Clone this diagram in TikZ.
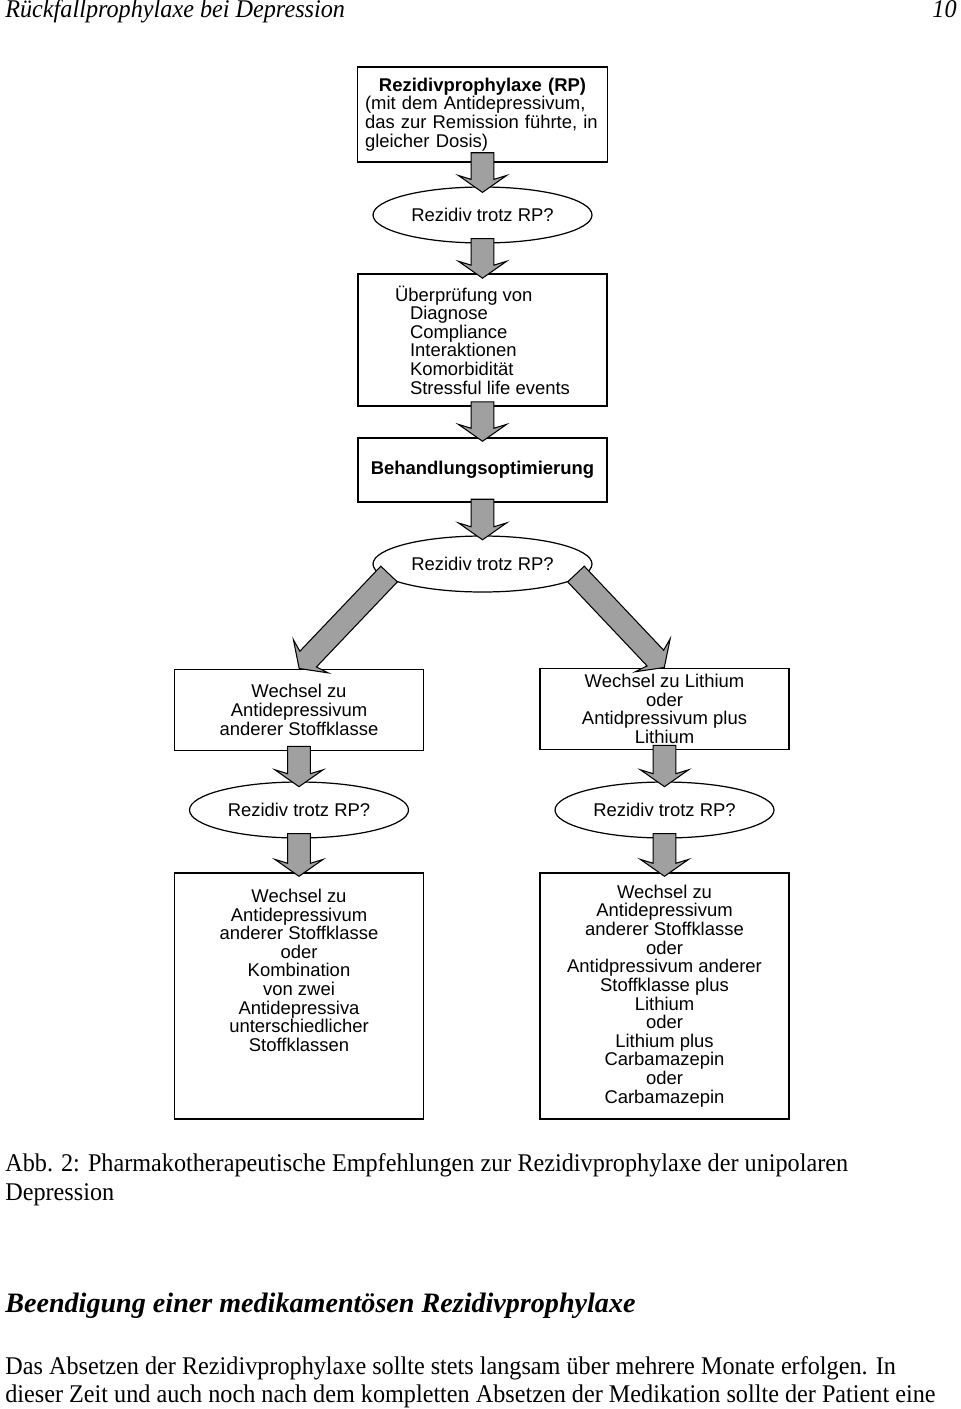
\documentclass[tikz,border=0pt]{standalone}
\usepackage{fontspec}
\setmainfont{Liberation Serif}
\setsansfont{Liberation Sans}
\newfontfamily\pagefont[FakeStretch=0.95]{Liberation Serif}
\usetikzlibrary{calc,positioning,shapes.geometric}
\definecolor{arrowgray}{RGB}{160,160,160}

% fat grey arrow: start, end, overlap into start, overlap past end
\newcommand{\fatarrow}[4]{%
  \filldraw[fatarrow] let \p1=($(#2)-(#1)$), \n1={atan2(\y1,\x1)},
      \n2={veclen(\x1,\y1)+#3+#4}, \p2=($(#1)+(\n1+180:#3)$) in
    ($(\p2)+(\n1+90:6.5pt)$) --
    ($(\p2)+(\n1:{\n2-7.4pt})+(\n1+90:6.5pt)$) --
    ($(\p2)+(\n1:{\n2-9.6pt})+(\n1+90:13.7pt)$) --
    ($(\p2)+(\n1:\n2)$) --
    ($(\p2)+(\n1:{\n2-9.6pt})+(\n1-90:13.7pt)$) --
    ($(\p2)+(\n1:{\n2-7.4pt})+(\n1-90:6.5pt)$) --
    ($(\p2)+(\n1-90:6.5pt)$) -- cycle;
}

\begin{document}
\begin{tikzpicture}[x=0.02cm, y=-0.02cm,
    box/.style={draw, line width=0.9pt, minimum width=4.98cm, inner sep=0pt,
      align=center, font=\sffamily\fontsize{10.5}{10.6}\selectfont},
    ask/.style={draw, ellipse, line width=0.7pt, minimum width=4.38cm,
      minimum height=1.12cm, inner sep=0pt, font=\sffamily\fontsize{10.5}{10.6}\selectfont},
    fatarrow/.style={fill=arrowgray, draw=black, line width=0.6pt, line join=miter},
    pagetext/.style={inner sep=0pt, anchor=base west}]

  \useasboundingbox (0,0) rectangle (960,1409);

  % page head
  \node[pagetext, font=\pagefont\itshape\fontsize{14.5}{16}\selectfont] (head) at (5,18) {Rückfallprophylaxe bei Depression};
  \node[pagetext, anchor=base east, font=\pagefont\itshape\fontsize{14.5}{16}\selectfont] (pagenum) at (957,18) {10};

  % main column
  \node[box, minimum height=1.9cm, text width=4.7cm, inner xsep=0.15cm, align=left] (b1) at (482.5,114.5)
    {\makebox[4.7cm]{\textbf{Rezidivprophylaxe (RP)}}\\(mit dem Antidepressivum,\\das zur Remission führte, in\\gleicher Dosis)};
  \node[ask] (e1) at (482.5,215) {Rezidiv trotz RP?};
  \node[box, minimum height=2.64cm, align=left] (b2) at (482.5,340)
    {Überprüfung von\\\hspace*{0.3cm}Diagnose\\\hspace*{0.3cm}Compliance\\\hspace*{0.3cm}Interaktionen\\\hspace*{0.3cm}Komorbidität\\\hspace*{0.3cm}Stressful life events};
  \node[box, minimum height=1.28cm, font=\sffamily\bfseries\fontsize{10.5}{10.6}\selectfont] (b3) at (482.5,470) {Behandlungsoptimierung};
  \node[ask] (e2) at (482.5,564) {Rezidiv trotz RP?};

  % left branch
  \node[box, minimum height=1.62cm] (b4) at (299,710) {Wechsel zu\\Antidepressivum\\anderer Stoffklasse};
  \node[ask] (e3) at (299,810) {Rezidiv trotz RP?};
  \node[box, minimum height=4.92cm] (b6) at (299,996) {};
  \node[box, draw=none, below=0.32cm of b6.north] (b6txt)
    {Wechsel zu\\Antidepressivum\\anderer Stoffklasse\\oder\\Kombination\\von zwei\\Antidepressiva\\unterschiedlicher\\Stoffklassen};

  % right branch
  \node[box, minimum height=1.62cm] (b5) at (664.5,709) {Wechsel zu Lithium\\oder\\Antidpressivum plus\\Lithium};
  \node[ask] (e4) at (664.5,810) {Rezidiv trotz RP?};
  \node[box, minimum height=4.92cm] (b7) at (664.5,996)
    {Wechsel zu\\Antidepressivum\\anderer Stoffklasse\\oder\\Antidpressivum anderer\\Stoffklasse plus\\Lithium\\oder\\Lithium plus\\Carbamazepin\\oder\\Carbamazepin};

  % arrows
  \fatarrow{b1.south}{e1.north}{5.7pt}{3.4pt}
  \fatarrow{e1.south}{b2.north}{2.8pt}{2.8pt}
  \fatarrow{b2.south}{b3.north}{2.8pt}{2.3pt}
  \fatarrow{b3.south}{e2.north}{2pt}{2.5pt}
  \fatarrow{e2.188}{b4.north}{2.8pt}{0pt}
  \fatarrow{e2.352}{b5.north}{2.8pt}{0pt}
  \fatarrow{b4.south}{e3.north}{2.8pt}{3pt}
  \fatarrow{b5.south}{e4.north}{2.8pt}{3pt}
  \fatarrow{e3.south}{b6.north}{2.8pt}{2.3pt}
  \fatarrow{e4.south}{b7.north}{2.8pt}{2.3pt}

  % caption and text
  \node[pagetext, font=\pagefont\fontsize{14.5}{16}\selectfont] (cap1) at (5,1171) {Abb. 2: Pharmakotherapeutische Empfehlungen zur Rezidivprophylaxe der unipolaren};
  \node[pagetext, font=\pagefont\fontsize{14.5}{16}\selectfont] (cap2) at (5,1200) {Depression};
  \node[pagetext, font=\rmfamily\bfseries\itshape\fontsize{16}{18}\selectfont] (sect) at (5,1312) {Beendigung einer medikamentösen Rezidivprophylaxe};
  \node[pagetext, font=\pagefont\fontsize{14.5}{16}\selectfont] (par1) at (5,1374) {Das Absetzen der Rezidivprophylaxe sollte stets langsam über mehrere Monate erfolgen. In};
  \node[pagetext, font=\pagefont\fontsize{14.5}{16}\selectfont] (par2) at (5,1402) {dieser Zeit und auch noch nach dem kompletten Absetzen der Medikation sollte der Patient eine};
\end{tikzpicture}
\end{document}
